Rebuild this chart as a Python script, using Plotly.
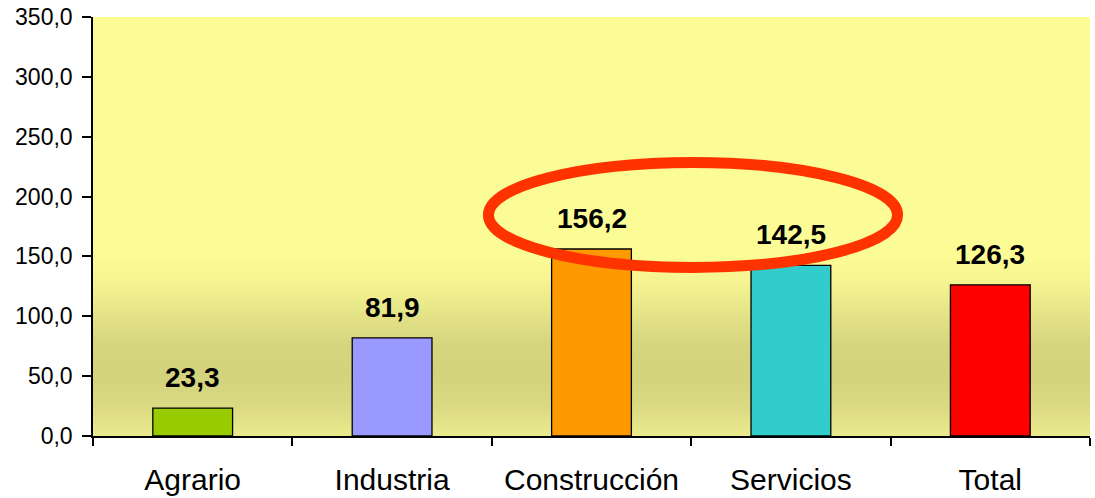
import plotly.graph_objects as go

categories = ["Agrario", "Industria", "Construcción", "Servicios", "Total"]
values = [23.3, 81.9, 156.2, 142.5, 126.3]
bar_colors = ["#99CC00", "#9999FF", "#FF9900", "#33CCCC", "#FF0000"]
y_ticks = [0, 50, 100, 150, 200, 250, 300, 350]

# background gradient stops (value, rgb)
grad_stops = [
    (0, (0xEB, 0xEA, 0x8D)),
    (25, (0xDA, 0xD9, 0x83)),
    (50, (0xD3, 0xD3, 0x7E)),
    (75, (0xD5, 0xD4, 0x7F)),
    (100, (0xE3, 0xE2, 0x87)),
    (125, (0xF3, 0xF2, 0x90)),
    (150, (0xFC, 0xFC, 0x96)),
    (350, (0xFC, 0xFC, 0x98)),
]


def grad_color(v):
    for (a, ca), (b, cb) in zip(grad_stops[:-1], grad_stops[1:]):
        if a <= v <= b:
            t = (v - a) / (b - a)
            c = [round(ca[i] + (cb[i] - ca[i]) * t) for i in range(3)]
            return f"rgb({c[0]},{c[1]},{c[2]})"
    return "rgb(252,252,152)"


shapes = [dict(type="rect", xref="paper", yref="y", x0=0, x1=1,
               y0=150, y1=350, fillcolor="rgb(252,252,151)",
               line=dict(width=0), layer="below")]
step = 1.0
v = 0.0
while v < 155:
    shapes.append(dict(type="rect", xref="paper", yref="y", x0=0, x1=1,
                       y0=v, y1=v + step + 0.6, fillcolor=grad_color(v + step / 2),
                       line=dict(width=0), layer="below"))
    v += step

# highlight ellipse
shapes.append(dict(type="circle", xref="x", yref="y", x0=1.483, x1=3.535,
                   y0=140.8, y1=228.5, line=dict(color="#FF3300", width=11),
                   fillcolor="rgba(0,0,0,0)", layer="above"))

fig = go.Figure()
fig.add_trace(go.Bar(x=categories, y=values,
                     marker=dict(color=bar_colors, line=dict(color="black", width=1.3)),
                     hoverinfo="skip"))

annotations = []
for c, val in zip(categories, values):
    annotations.append(dict(x=c, y=val, xref="x", yref="y",
                            text=f"{val:.1f}".replace(".", ","),
                            showarrow=False, yanchor="bottom", yshift=13,
                            font=dict(family="Liberation Sans, Arial", size=28,
                                      color="black", weight="bold")))

fig.update_layout(
    width=1095, height=498,
    margin=dict(l=93, r=5, t=17, b=62),
    paper_bgcolor="white",
    plot_bgcolor="rgb(252,252,152)",
    separators=",.",
    bargap=0.6,
    showlegend=False,
    shapes=shapes,
    annotations=annotations,
    font=dict(family="Liberation Sans, Arial", color="black"),
)
fig.update_xaxes(type="category", showline=True, linecolor="black", linewidth=1.5,
                 ticks="outside", tickson="boundaries", ticklen=8, tickcolor="black",
                 tickwidth=1.5, showgrid=False, tickfont=dict(size=30, color="black"),
                 ticklabelstandoff=16,
                 range=[-0.5, 4.5], automargin=False)
fig.update_yaxes(range=[0, 350], tickvals=y_ticks, tickformat=".1f",
                 showline=True, linecolor="black", linewidth=1.5,
                 ticks="outside", ticklen=9, tickcolor="black", tickwidth=1.5,
                 showgrid=False, zeroline=False, tickfont=dict(size=23, color="black"),
                 ticklabelstandoff=5, automargin=False)

fig.write_html("out.html", config={"displayModeBar": False},
               post_script="document.body.style.margin='0';document.body.style.overflow='hidden';")
